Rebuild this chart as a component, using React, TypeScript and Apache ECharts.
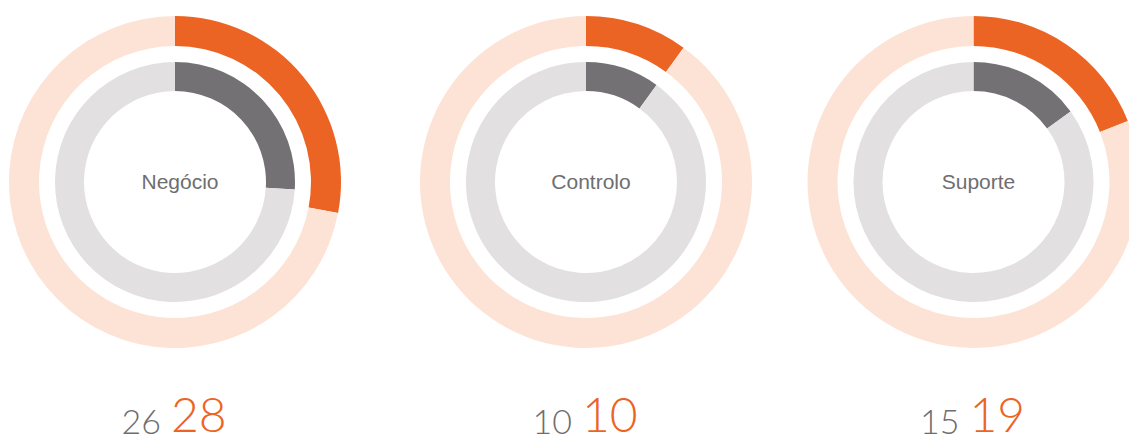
import React, { useEffect, useRef } from "react";
import * as echarts from "echarts";

const categories = ["Negócio", "Controlo", "Suporte"];
const outerValues = [28, 10, 19];
const innerValues = [26, 10, 15];
const total = 100;

const centersX = [175, 586, 973.5];
const centerY = 182;

const ORANGE = "#EC6423";
const ORANGE_LIGHT = "#FDE3D5";
const GREY_DARK = "#737174";
const GREY_LIGHT = "#E2E0E1";
const TEXT_GREY = "#6E6E70";

export default function App() {
  const ref = useRef<HTMLDivElement>(null);
  useEffect(() => {
    if (!ref.current) return;
    const chart = echarts.init(ref.current, undefined, { renderer: "svg" });
    const series: any[] = [];
    const titles: any[] = [];
    categories.forEach((name, i) => {
      const c = [centersX[i], centerY];
      series.push({
        type: "pie",
        name: name + " outer",
        center: c,
        radius: [136, 166],
        startAngle: 90,
        clockwise: true,
        silent: true,
        label: { show: false },
        labelLine: { show: false },
        data: [
          { value: outerValues[i], itemStyle: { color: ORANGE } },
          { value: total - outerValues[i], itemStyle: { color: ORANGE_LIGHT } },
        ],
      });
      series.push({
        type: "pie",
        name: name + " inner",
        center: c,
        radius: [91, 120],
        startAngle: 90,
        clockwise: true,
        silent: true,
        label: { show: false },
        labelLine: { show: false },
        data: [
          { value: innerValues[i], itemStyle: { color: GREY_DARK } },
          { value: total - innerValues[i], itemStyle: { color: GREY_LIGHT } },
        ],
      });
      titles.push({
        text: name,
        left: centersX[i],
        top: centerY - 16,
        textAlign: "center",
        textStyle: {
          fontFamily: "Liberation Sans, Arial, sans-serif",
          fontSize: 21,
          fontWeight: "normal",
          color: TEXT_GREY,
        },
      });
      titles.push({
        text: `{g|${innerValues[i]}}{o|${outerValues[i]}}`,
        left: centersX[i] - 1,
        top: 386,
        padding: 0,
        textAlign: "center",
        textStyle: {
          rich: {
            g: {
              fontFamily: "Lato, sans-serif",
              fontWeight: 300,
              fontSize: 34,
              color: TEXT_GREY,
              verticalAlign: "bottom",
              lineHeight: 39,
            },
            o: {
              fontFamily: "Lato, sans-serif",
              fontWeight: 300,
              fontSize: 48,
              color: ORANGE,
              verticalAlign: "bottom",
              lineHeight: 51,
              padding: [0, 0, 0, 10],
            },
          },
        },
      });
    });
    chart.setOption({
      animation: false,
      backgroundColor: "#ffffff",
      title: titles,
      series,
    });
    return () => chart.dispose();
  }, []);
  return (
    <div
      ref={ref}
      style={{ position: "fixed", left: 0, top: 0, width: 1129, height: 441 }}
    />
  );
}
